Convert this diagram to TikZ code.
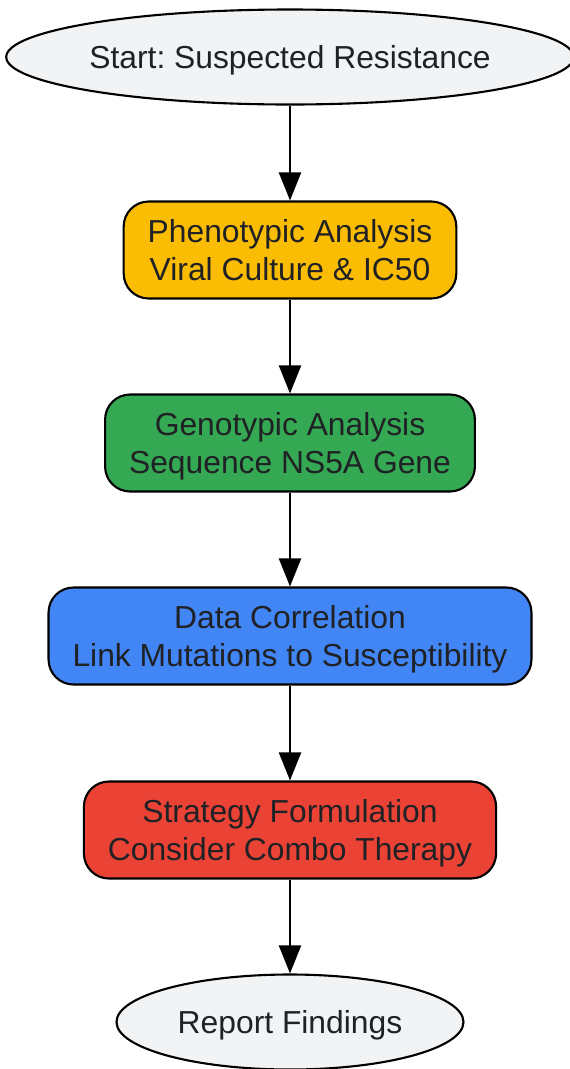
\documentclass[tikz,border=0pt]{standalone}
\usepackage{fontspec}
\setmainfont{Liberation Sans}
\usepackage{tikz}
\usetikzlibrary{arrows.meta}
\usetikzlibrary{shapes}
\usetikzlibrary{positioning}

\definecolor{termfill}{HTML}{F1F3F4}
\definecolor{phenofill}{HTML}{FBBC04}
\definecolor{genofill}{HTML}{34A853}
\definecolor{corrfill}{HTML}{4285F4}
\definecolor{stratfill}{HTML}{EA4335}
\definecolor{labeltext}{HTML}{202124}

\tikzset{
	terminal/.style={ellipse, draw=black, line width=1.2pt, fill=termfill, text=labeltext, inner sep=0pt, text depth=0pt, minimum height=1.9cm},
	stepbox/.style={rectangle, rounded corners=0.5cm, draw=black, line width=1.2pt, text=labeltext, align=center, inner xsep=0.48cm, text depth=0pt, minimum height=1.94cm},
	flow/.style={-{Triangle[length=0.56cm, width=0.44cm]}, line width=1.2pt}
}

\begin{document}
\frenchspacing
\begin{tikzpicture}[font=\fontsize{18.1}{21.7}\selectfont]
			\useasboundingbox (0,0) rectangle (11.4,-21.38);
			
			\node[terminal, minimum width=11.24cm] (start) at (5.8,-1.14) {Start: Suspected Resistance};
			\node[stepbox, fill=phenofill] (pheno) at (5.8,-5.0) {Phenotypic Analysis\\Viral Culture \& IC50};
			\node[stepbox, fill=genofill] (geno) at (5.8,-8.86) {Genotypic Analysis\\Sequence NS5A Gene};
			\node[stepbox, fill=corrfill] (corr) at (5.8,-12.72) {Data Correlation\\Link Mutations to Susceptibility};
			\node[stepbox, fill=stratfill] (strat) at (5.8,-16.6) {Strategy Formulation\\Consider Combo Therapy};
			\node[terminal, minimum width=6.94cm] (report) at (5.8,-20.44) {Report Findings};
			
			\draw[flow] (start) -- (pheno);
			\draw[flow] (pheno) -- (geno);
			\draw[flow] (geno) -- (corr);
			\draw[flow] (corr) -- (strat);
			\draw[flow] (strat) -- (report);
\end{tikzpicture}
\end{document}
